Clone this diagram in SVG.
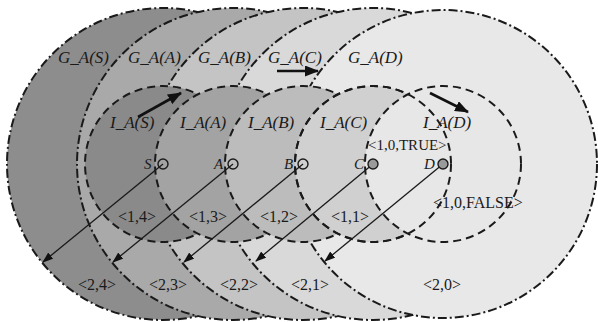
<svg xmlns="http://www.w3.org/2000/svg" width="598" height="322" viewBox="0 0 598 322">
<style>
.big{stroke:#1a1a1a;stroke-width:2;stroke-dasharray:9 3 2 3}
.sm{stroke:#1a1a1a;stroke-width:2;stroke-dasharray:8 5}
.lab{font-family:"Liberation Serif","Times New Roman",serif;font-size:17px;font-style:italic;fill:#1a1a1a}
.tup{font-family:"Liberation Serif","Times New Roman",serif;font-size:16px;fill:#1a1a1a}
.nd{stroke:#1a1a1a;stroke-width:1.4}
.thin{stroke:#1a1a1a;stroke-width:1.3;fill:none}
.thick{stroke:#111;stroke-width:2.6;fill:none}
</style>
<defs>
<marker id="ah" markerUnits="userSpaceOnUse" markerWidth="11" markerHeight="8" refX="10" refY="4" orient="auto">
<path d="M0,0 L11,4 L0,8 z" fill="#111"/>
</marker>
<marker id="ahT" markerUnits="userSpaceOnUse" markerWidth="14" markerHeight="11" refX="13" refY="5.5" orient="auto">
<path d="M0,0 L14,5.5 L0,11 z" fill="#111"/>
</marker>
</defs>
<rect width="598" height="322" fill="#fff"/>
<g id="G_A_S"><circle class="big" cx="163" cy="164" r="156" fill="#8d8d8d"/><text class="lab" x="58" y="63">G_A(S)</text></g>
<g id="G_A_A"><circle class="big" cx="233" cy="164" r="156" fill="#a9a9a9"/><text class="lab" x="128" y="63">G_A(A)</text></g>
<g id="G_A_B"><circle class="big" cx="303" cy="164" r="156" fill="#c4c4c4"/><text class="lab" x="198" y="63">G_A(B)</text></g>
<g id="G_A_C"><circle class="big" cx="373" cy="164" r="156" fill="#d9d9d9"/><text class="lab" x="268" y="63">G_A(C)</text></g>
<g id="G_A_D"><circle class="big" cx="443" cy="164" r="154" fill="#e8e8e8"/><text class="lab" x="348" y="63">G_A(D)</text></g>
<g id="I_A_S"><circle class="sm" cx="163" cy="164" r="78" fill="#8a8a8a"/></g>
<g id="I_A_A"><circle class="sm" cx="233" cy="164" r="78" fill="#a3a3a3"/></g>
<g id="I_A_B"><circle class="sm" cx="303" cy="164" r="78" fill="#bcbcbc"/></g>
<g id="I_A_C"><circle class="sm" cx="373" cy="164" r="78" fill="#d0d0d0"/></g>
<g id="I_A_D"><circle class="sm" cx="443" cy="164" r="78" fill="#e7e7e7"/></g>
<circle class="sm" cx="373" cy="164" r="78" fill="none"/>
<g id="labels">
<text class="lab" x="110" y="128">I_A(S)</text>
<text class="lab" x="180" y="128">I_A(A)</text>
<text class="lab" x="248" y="128">I_A(B)</text>
<text class="lab" x="320" y="128">I_A(C)</text>
<text class="lab" x="423" y="128">I_A(D)</text>
<text class="tup" x="368" y="150" style="font-size:15px">&lt;1,0,TRUE&gt;</text>
<text class="tup" x="433" y="208">&lt;1,0,FALSE&gt;</text>
<text class="tup" x="118" y="222">&lt;1,4&gt;</text>
<text class="tup" x="189" y="222">&lt;1,3&gt;</text>
<text class="tup" x="260" y="222">&lt;1,2&gt;</text>
<text class="tup" x="331" y="222">&lt;1,1&gt;</text>
<text class="tup" x="78" y="290">&lt;2,4&gt;</text>
<text class="tup" x="149" y="290">&lt;2,3&gt;</text>
<text class="tup" x="220" y="290">&lt;2,2&gt;</text>
<text class="tup" x="291" y="290">&lt;2,1&gt;</text>
<text class="tup" x="423" y="290">&lt;2,0&gt;</text>
</g>
<g id="connectors">
<line class="thin" x1="163" y1="164" x2="43" y2="262" marker-end="url(#ah)"/>
<line class="thin" x1="233" y1="164" x2="113" y2="262" marker-end="url(#ah)"/>
<line class="thin" x1="303" y1="164" x2="184" y2="262" marker-end="url(#ah)"/>
<line class="thin" x1="373" y1="164" x2="256" y2="261" marker-end="url(#ah)"/>
<line class="thin" x1="443" y1="164" x2="325" y2="261" marker-end="url(#ah)"/>
<line class="thick" x1="138" y1="117" x2="181" y2="93" marker-end="url(#ahT)"/>
<line class="thick" x1="277" y1="71" x2="318" y2="71" marker-end="url(#ahT)"/>
<line class="thick" x1="430" y1="93" x2="468" y2="112" marker-end="url(#ahT)"/>
</g>
<g id="node_S"><circle class="nd" cx="163" cy="164" r="5" fill="none"/><text class="lab" x="144" y="169" style="font-size:15px">S</text></g>
<g id="node_A"><circle class="nd" cx="233" cy="164" r="5" fill="none"/><text class="lab" x="214" y="169" style="font-size:15px">A</text></g>
<g id="node_B"><circle class="nd" cx="303" cy="164" r="5" fill="none"/><text class="lab" x="284" y="169" style="font-size:15px">B</text></g>
<g id="node_C"><circle class="nd" cx="373" cy="164" r="5" fill="#9a9a9a"/><text class="lab" x="354" y="169" style="font-size:15px">C</text></g>
<g id="node_D"><circle class="nd" cx="443" cy="164" r="5" fill="#9a9a9a"/><text class="lab" x="424" y="169" style="font-size:15px">D</text></g>
</svg>
